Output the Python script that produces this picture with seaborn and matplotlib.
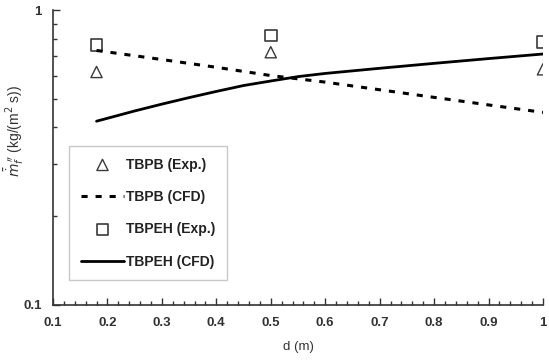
import numpy as np
import pandas as pd
import matplotlib
matplotlib.use("Agg")
import matplotlib.pyplot as plt
import seaborn as sns
from matplotlib.ticker import FixedLocator, NullFormatter

# Experimental points
d_exp = [0.18, 0.5, 1.0]
tbpb_exp = [0.617, 0.72, 0.63]
tbpeh_exp = [0.76, 0.82, 0.78]

# CFD curves
d_tbpb_cfd = [0.18, 0.3, 0.4, 0.5, 0.6, 0.7, 0.8, 0.9, 1.0]
tbpb_cfd = [0.73, 0.68, 0.64, 0.60, 0.57, 0.537, 0.506, 0.477, 0.45]
d_tbpeh_cfd = [0.18, 0.25, 0.3, 0.35, 0.4, 0.45, 0.5, 0.55, 0.6, 0.7, 0.8, 0.9, 1.0]
tbpeh_cfd = [0.42, 0.455, 0.48, 0.505, 0.53, 0.555, 0.575, 0.595, 0.61, 0.635, 0.66, 0.685, 0.71]

sns.set_style("ticks")
plt.rcParams['font.family'] = ['Liberation Sans', 'DejaVu Sans']

fig = plt.figure(figsize=(5.49, 3.63), dpi=100)
ax = fig.add_axes([0.0965, 0.16, 0.8925, 0.812])

gray = '#3a3a3a'
sns.scatterplot(x=d_exp, y=tbpb_exp, marker='^', s=65, facecolor='none',
                edgecolor=gray, linewidth=1.0, ax=ax, label='TBPB (Exp.)')
sns.lineplot(x=d_tbpb_cfd, y=tbpb_cfd, color='black', lw=2.2,
             linestyle=(0, (2, 2.6)), ax=ax, label='TBPB (CFD)')
sns.scatterplot(x=d_exp, y=tbpeh_exp, marker='s', s=70, facecolor='none',
                edgecolor=gray, linewidth=1.2, ax=ax, label='TBPEH (Exp.)')
sns.lineplot(x=d_tbpeh_cfd, y=tbpeh_cfd, color='black', lw=2.0, ax=ax,
             label='TBPEH (CFD)')

ax.set_yscale('log')
ax.set_xlim(0.1, 1.0)
ax.set_ylim(0.1, 1.0)
ax.set_xticks([0.1, 0.2, 0.3, 0.4, 0.5, 0.6, 0.7, 0.8, 0.9, 1.0])
ax.set_xticklabels(['0.1', '0.2', '0.3', '0.4', '0.5', '0.6', '0.7', '0.8', '0.9', '1'],
                   fontweight='bold', fontsize=9.5, color='#333333')
ax.xaxis.set_minor_locator(FixedLocator(np.arange(0.12, 1.0, 0.02)))
ax.set_yticks([0.1, 1.0])
ax.set_yticklabels(['0.1', '1'], fontweight='bold', fontsize=9.5, color='#333333')
ax.yaxis.set_minor_locator(FixedLocator([0.2, 0.3, 0.4, 0.5, 0.6, 0.7, 0.8, 0.9]))
ax.yaxis.set_minor_formatter(NullFormatter())
ax.tick_params(which='both', direction='in', color='#333333')
ax.tick_params(which='major', length=5, width=1)
ax.tick_params(which='minor', length=3, width=1)
ax.tick_params(axis='x', which='major', pad=9)
ax.tick_params(axis='y', which='major', pad=8)
for s in ['top', 'right']:
    ax.spines[s].set_visible(False)
for s in ['left', 'bottom']:
    ax.spines[s].set_linewidth(1.2)
    ax.spines[s].set_color('#333333')

ax.set_xlabel('d (m)', fontsize=9.5, color='#333333', labelpad=8)
ax.set_ylabel(r"$\bar{\dot{m}}_f^{\,\prime\prime}$ (kg/(m$^2$ s))", fontsize=10,
              color='#333333', labelpad=4)
ax.yaxis.set_label_coords(-0.055, 0.59)

leg = ax.legend(loc='upper left', bbox_to_anchor=(0.033, 0.54), frameon=True,
                fancybox=False, edgecolor='#bbbbbb', labelspacing=1.32,
                handlelength=3.1, handletextpad=0.15, borderpad=0.85,
                borderaxespad=0, prop={'weight': 'bold', 'size': 10})
for t in leg.get_texts():
    t.set_color('#222222')

fig.savefig('out.png', dpi=100)
